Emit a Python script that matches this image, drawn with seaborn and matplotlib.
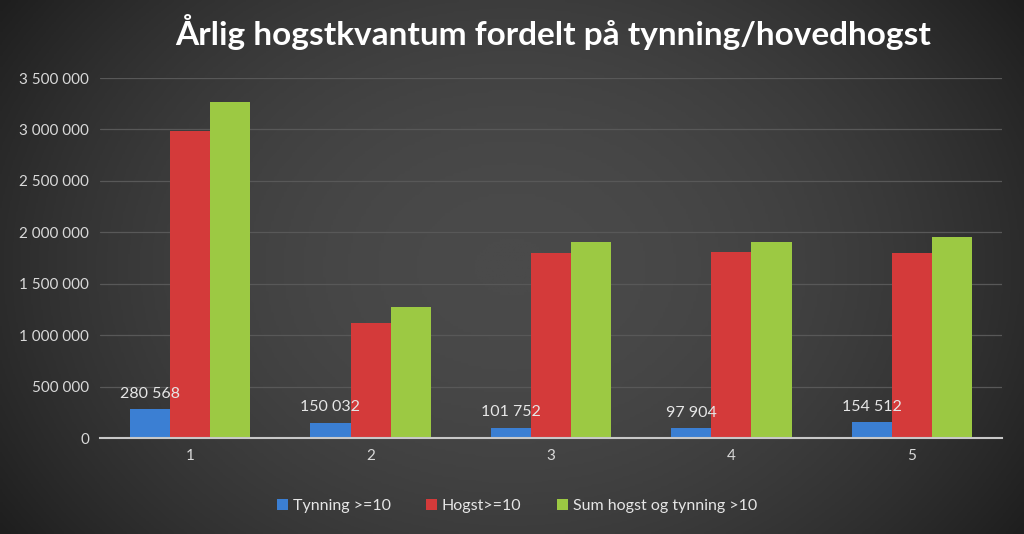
import numpy as np
import pandas as pd
import matplotlib
matplotlib.use("Agg")
import matplotlib.pyplot as plt
import seaborn as sns
from matplotlib.ticker import FuncFormatter

categories = ["1", "2", "3", "4", "5"]
tynning = [280568, 150032, 101752, 97904, 154512]
hogst = [2980000, 1118000, 1799000, 1808000, 1799000]
sum_total = [3262000, 1270000, 1902000, 1910000, 1954000]
series_names = ["Tynning >=10", "Hogst>=10", "Sum hogst og tynning >10"]
colors = ["#3b7fd3", "#d43a3a", "#9cc943"]
title = "Årlig hogstkvantum fordelt på tynning/hovedhogst"

df = pd.DataFrame({
    "cat": categories * 3,
    "value": tynning + hogst + sum_total,
    "series": [series_names[0]] * 5 + [series_names[1]] * 5 + [series_names[2]] * 5,
})

sns.set_theme(style="dark")
plt.rcParams["font.family"] = ["Lato", "DejaVu Sans"]

fig = plt.figure(figsize=(10.24, 5.34), dpi=100)
# background gradient
bg = fig.add_axes([0, 0, 1, 1])
xx = np.linspace(-1, 1, 400)
yy = np.linspace(-1, 1, 200)
X, Y = np.meshgrid(xx, yy)
G = 1 - 0.55 * (X ** 2) - 0.25 * (Y ** 2)
bg.imshow(G, cmap=matplotlib.colors.LinearSegmentedColormap.from_list("g", ["#1e1e1e", "#4a4a4a"]),
          aspect="auto", extent=[0, 1, 0, 1], vmin=0.2, vmax=1)
bg.set_axis_off()

ax = fig.add_axes([100 / 1024, 1 - 438 / 534, 902 / 1024, 360 / 534])
ax.patch.set_alpha(0)
sns.barplot(data=df, x="cat", y="value", hue="series", palette=colors,
            width=0.667, ax=ax, edgecolor="none", saturation=1, legend=True)

ax.set_ylim(0, 3500000)
ax.set_xlim(-0.5, 4.5)
ax.set_yticks(np.arange(0, 3500001, 500000))
ax.yaxis.set_major_formatter(FuncFormatter(lambda v, p: f"{int(v):,}".replace(",", " ")))
ax.grid(axis="y", color="#585858", linewidth=0.9)
ax.grid(axis="x", visible=False)
ax.set_axisbelow(True)
for s in ["top", "right", "left"]:
    ax.spines[s].set_visible(False)
ax.spines["bottom"].set_color("#c8c8c8")
ax.spines["bottom"].set_linewidth(1.5)
ax.tick_params(axis="both", colors="#d9d9d9", labelsize=11, length=0, pad=8)
ax.set_xlabel("")
ax.set_ylabel("")

# labels on blue bars
blue = ax.containers[0]
ax.bar_label(blue, labels=[f"{v:,}".replace(",", " ") for v in tynning],
             padding=6, color="#e6e6e6", fontsize=11.5)

leg = ax.legend(loc="upper center", bbox_to_anchor=(0.462, -0.13), ncol=3, frameon=False,
                fontsize=11.5, handlelength=0.7, handleheight=0.7, columnspacing=2.2,
                handletextpad=0.3)
for t in leg.get_texts():
    t.set_color("#e6e6e6")

fig.text(0.54, 0.94, title, ha="center", va="center", fontsize=24, fontweight="bold",
         color="white")

fig.savefig("out.png", dpi=100)
